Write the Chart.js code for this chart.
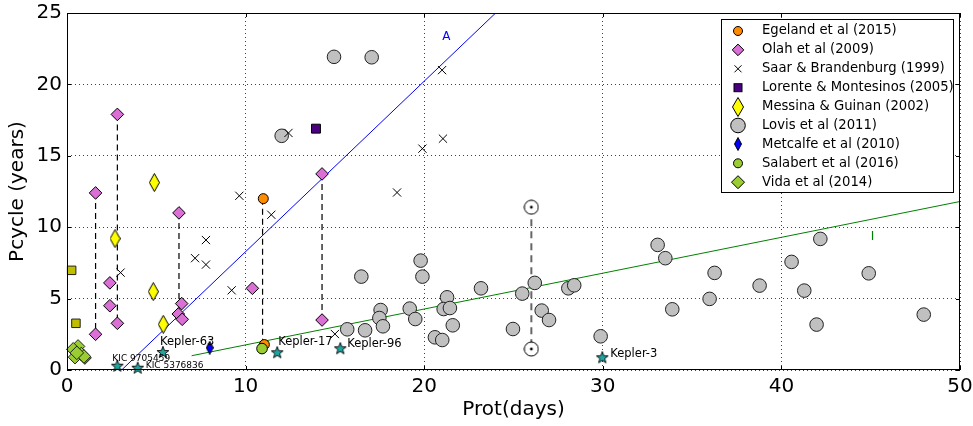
<!DOCTYPE html>
<html>
<head>
<meta charset="utf-8">
<script src="https://cdn.jsdelivr.net/npm/chart.js@4.4.1/dist/chart.umd.min.js"></script>
<style>
html,body{margin:0;padding:0;background:#fff;}
canvas{display:block;}
</style>
</head>
<body>
<canvas id="c" width="973" height="426"></canvas>
<script>
// ---------------- DATA ----------------
const xTicks = [0, 10, 20, 30, 40, 50];
const yTicks = [0, 5, 10, 15, 20, 25];

const egelandX = [10.99, 11.05];
const egelandY = [12.0, 1.78];

const olahX = [1.6, 2.82, 1.6, 2.4, 2.4, 2.82, 6.27, 6.42, 6.23, 6.45, 10.38, 14.28, 14.28];
const olahY = [12.4, 17.9, 2.5, 6.1, 4.5, 3.27, 11.0, 4.65, 3.92, 3.55, 5.72, 13.73, 3.5];

const saarX = [12.4, 9.65, 11.44, 7.78, 7.17, 7.78, 9.22, 3.0, 15.0, 21.0, 21.05, 19.9, 18.48];
const saarY = [16.6, 12.2, 10.87, 9.1, 7.83, 7.38, 5.58, 6.82, 2.52, 21.0, 16.2, 15.5, 12.43];

const lorenteX = [13.94];
const lorenteY = [16.9];

const oliveX = [0.26, 0.5];
const oliveY = [6.98, 3.27];

const messinaX = [4.89, 2.69, 4.83, 5.39];
const messinaY = [13.13, 9.2, 5.49, 3.2];

const lovisX = [14.95, 17.06, 12.02, 16.48, 19.8, 19.9, 15.69, 16.69, 17.56, 17.49, 17.69, 19.19, 19.5, 21.28, 21.09, 21.44, 21.6, 20.6, 21.01, 23.18, 24.97, 25.49, 26.19, 26.58, 26.99, 28.07, 28.4, 29.88, 33.07, 33.5, 33.89, 36.26, 35.98, 38.78, 40.57, 41.28, 42.18, 41.97, 44.89, 47.97];
const lovisY = [21.93, 21.9, 16.4, 6.54, 7.66, 6.54, 2.85, 2.78, 4.2, 3.64, 3.06, 4.3, 3.57, 5.09, 4.27, 4.34, 3.13, 2.29, 2.1, 5.72, 2.87, 5.35, 6.1, 4.16, 3.5, 5.72, 5.93, 2.36, 8.76, 7.83, 4.25, 6.8, 4.98, 5.91, 7.57, 5.56, 9.18, 3.18, 6.77, 3.88];

const metcalfeX = [7.99];
const metcalfeY = [1.56];

const salabertX = [10.92];
const salabertY = [1.5];

const vidaX = [0.62, 0.35, 0.8, 0.45, 0.95, 0.55];
const vidaY = [1.65, 1.45, 1.12, 0.9, 0.95, 1.2];
const vidaDarkX = [1.0];
const vidaDarkY = [0.85];

const sunX = [26, 26];
const sunY = [11.4, 1.47];

const starNames = ['Kepler-63', 'KIC 9705459', 'KIC 5376836', 'Kepler-17', 'Kepler-96', 'Kepler-3'];
const starX = [5.37, 2.82, 3.96, 11.77, 15.3, 29.97];
const starY = [1.26, 0.3, 0.16, 1.24, 1.52, 0.89];

const tieX = [1.6, 2.82, 6.27, 10.95, 14.28];
const tieTop = [12.4, 17.9, 11.0, 12.0, 13.73];
const tieBottom = [2.5, 3.27, 3.92, 1.75, 3.5];

const sunTieX = [26];
const sunTieTop = [11.4];
const sunTieBottom = [1.47];

const lineAX = [3.06, 24.0];
const lineAY = [0, 25];
const lineIX = [6.98, 50];
const lineIY = [1.0, 11.8];

const annoText = ['A', 'I'];
const annoX = [21.24, 45.1];
const annoY = [23.3, 9.3];

const legendLabels = ['Egeland et al (2015)', 'Olah et al (2009)', 'Saar & Brandenburg (1999)', 'Lorente & Montesinos (2005)', 'Messina & Guinan (2002)', 'Lovis et al (2011)', 'Metcalfe et al (2010)', 'Salabert et al (2016)', 'Vida et al (2014)'];

// ---------------- STYLES ----------------
const FONT = "'DejaVu Sans', 'Liberation Sans', sans-serif";
const C = {
  egeland: '#ff8c00', olah: '#da70d6', lorente: '#4b0082', messina: '#ffff00',
  lovis: '#c0c0c0', metcalfe: '#0000ff', salabert: '#9acd32', vida: '#9acd32',
  vidaDark: '#6b8e23', olive: '#bfbf00', star: '#1fa5a0'
};
const starLabelStyle = [
  {dx: -3, dy: -10, size: 11.5},
  {dx: -5, dy: -7, size: 9},
  {dx: 8, dy: -2, size: 9},
  {dx: 1, dy: -10, size: 11.5},
  {dx: 7, dy: -4, size: 11.5},
  {dx: 8, dy: -3, size: 11.5}
];
const annoColors = ['#0000ff', '#008000'];

function makeCanvas(w, h, draw) {
  const c = document.createElement('canvas');
  c.width = w; c.height = h;
  draw(c.getContext('2d'), w, h);
  return c;
}
function diamondCanvas(w, h, fill) {
  return makeCanvas(w, h, (g) => {
    g.beginPath();
    g.moveTo(w / 2, 0.5); g.lineTo(w - 0.5, h / 2); g.lineTo(w / 2, h - 0.5); g.lineTo(0.5, h / 2);
    g.closePath();
    g.fillStyle = fill; g.fill();
    g.lineWidth = 1; g.strokeStyle = '#000'; g.stroke();
  });
}
function starCanvas(size, fill) {
  return makeCanvas(size, size, (g) => {
    const cx = size / 2, cy = size / 2 + 0.5, R = size / 2 - 0.8, r = R * 0.42;
    g.beginPath();
    for (let i = 0; i < 10; i++) {
      const a = -Math.PI / 2 + i * Math.PI / 5;
      const rr = i % 2 === 0 ? R : r;
      const px = cx + rr * Math.cos(a), py = cy + rr * Math.sin(a);
      if (i === 0) g.moveTo(px, py); else g.lineTo(px, py);
    }
    g.closePath();
    g.fillStyle = fill; g.fill();
    g.lineWidth = 0.9; g.strokeStyle = '#000'; g.stroke();
  });
}
function sunCanvas(size) {
  return makeCanvas(size, size, (g) => {
    g.beginPath(); g.arc(size / 2, size / 2, size / 2 - 1, 0, Math.PI * 2);
    g.fillStyle = '#fff'; g.fill(); g.lineWidth = 1; g.strokeStyle = '#000'; g.stroke();
    g.beginPath(); g.arc(size / 2, size / 2, 1.4, 0, Math.PI * 2); g.fillStyle = '#000'; g.fill();
  });
}
const messinaImg = diamondCanvas(11, 19, C.messina);
const metcalfeImg = diamondCanvas(8, 14, C.metcalfe);
const starImg = starCanvas(14, C.star);
const sunImg = sunCanvas(16);
const messinaLegImg = diamondCanvas(12, 20, C.messina);
const metcalfeLegImg = diamondCanvas(8, 14, C.metcalfe);

const pts = (xs, ys) => xs.map((x, i) => ({x: x, y: ys[i]}));

function markerSet(label, xs, ys, o) {
  return Object.assign({
    label: label, data: pts(xs, ys), showLine: false, clip: false,
    borderColor: '#000', borderWidth: 1, pointBorderWidth: 1
  }, o);
}

const datasets = [];
datasets.push({label: 'lineA', data: pts(lineAX, lineAY), showLine: true, pointRadius: 0,
  borderColor: '#0000ff', borderWidth: 1, order: 100});
datasets.push({label: 'lineI', data: pts(lineIX, lineIY), showLine: true, pointRadius: 0,
  borderColor: '#008000', borderWidth: 1, order: 100});
tieX.forEach((x, i) => datasets.push({label: 'tie' + i,
  data: [{x: x, y: tieTop[i]}, {x: x, y: tieBottom[i]}], showLine: true, pointRadius: 0,
  borderColor: '#000', borderWidth: 1.2, borderDash: [6, 4], order: 90}));
sunTieX.forEach((x, i) => datasets.push({label: 'suntie' + i,
  data: [{x: x, y: sunTieTop[i]}, {x: x, y: sunTieBottom[i]}], showLine: true, pointRadius: 0,
  borderColor: '#666', borderWidth: 2, borderDash: [7, 5], order: 90}));
datasets.push(markerSet(legendLabels[5], lovisX, lovisY, {pointStyle: 'circle', pointRadius: 6.8, backgroundColor: C.lovis, borderColor: '#222', order: 50}));
datasets.push(markerSet('olive', oliveX, oliveY, {pointStyle: 'rect', pointRadius: 6, backgroundColor: C.olive, borderColor: '#222', order: 20}));
datasets.push(markerSet('vidaDark', vidaDarkX, vidaDarkY, {pointStyle: 'rectRot', pointRadius: 6.5, backgroundColor: C.vidaDark, borderColor: '#222', order: 21}));
datasets.push(markerSet(legendLabels[8], vidaX, vidaY, {pointStyle: 'rectRot', pointRadius: 6.8, backgroundColor: C.vida, borderColor: '#222', order: 20}));
datasets.push(markerSet(legendLabels[1], olahX, olahY, {pointStyle: 'rectRot', pointRadius: 6.3, backgroundColor: C.olah, order: 15}));
datasets.push(markerSet(legendLabels[2], saarX, saarY, {pointStyle: 'crossRot', pointRadius: 5.8, backgroundColor: '#000', borderColor: '#000', order: 14}));
datasets.push(markerSet(legendLabels[3], lorenteX, lorenteY, {pointStyle: 'rect', pointRadius: 6.3, backgroundColor: C.lorente, order: 13}));
datasets.push(markerSet(legendLabels[4], messinaX, messinaY, {pointStyle: messinaImg, pointRadius: 6, order: 12}));
datasets.push(markerSet(legendLabels[0], egelandX, egelandY, {pointStyle: 'circle', pointRadius: 5, backgroundColor: C.egeland, order: 12}));
datasets.push(markerSet(legendLabels[7], salabertX, salabertY, {pointStyle: 'circle', pointRadius: 5.3, backgroundColor: C.salabert, order: 11}));
datasets.push(markerSet(legendLabels[6], metcalfeX, metcalfeY, {pointStyle: metcalfeImg, pointRadius: 5, order: 10}));
datasets.push(markerSet('Sun', sunX, sunY, {pointStyle: sunImg, pointRadius: 7, order: 5}));
datasets.push(markerSet('Kepler', starX, starY, {pointStyle: starImg, pointRadius: 6, order: 1}));

// ---------------- PLUGINS ----------------
const framePlugin = {
  id: 'frame',
  afterDatasetsDraw(chart) {
    const {ctx, chartArea: a, scales} = chart;
    ctx.save();
    ctx.strokeStyle = '#000'; ctx.lineWidth = 1; ctx.setLineDash([]);
    ctx.strokeRect(Math.round(a.left) + 0.5, Math.round(a.top) + 0.5, Math.round(a.right - a.left) - 1, Math.round(a.bottom - a.top) - 1);
    ctx.beginPath();
    xTicks.forEach(v => {
      const px = Math.round(scales.x.getPixelForValue(v)) + 0.5;
      ctx.moveTo(px, a.bottom); ctx.lineTo(px, a.bottom - 4);
      ctx.moveTo(px, a.top); ctx.lineTo(px, a.top + 4);
    });
    yTicks.forEach(v => {
      const py = Math.round(scales.y.getPixelForValue(v)) + 0.5;
      ctx.moveTo(a.left, py); ctx.lineTo(a.left + 4, py);
      ctx.moveTo(a.right, py); ctx.lineTo(a.right - 4, py);
    });
    ctx.stroke();
    ctx.fillStyle = '#000'; ctx.textBaseline = 'middle'; ctx.textAlign = 'left';
    starNames.forEach((n, i) => {
      const s = starLabelStyle[i];
      ctx.font = s.size + 'px ' + FONT;
      ctx.fillText(n, scales.x.getPixelForValue(starX[i]) + s.dx, scales.y.getPixelForValue(starY[i]) + s.dy);
    });
    ctx.font = '12px ' + FONT; ctx.textAlign = 'center';
    annoText.forEach((t, i) => {
      ctx.fillStyle = annoColors[i];
      ctx.fillText(t, scales.x.getPixelForValue(annoX[i]), scales.y.getPixelForValue(annoY[i]));
    });
    ctx.restore();
  }
};

function legMarker(ctx, kind, x, y) {
  ctx.save();
  ctx.lineWidth = 1; ctx.strokeStyle = '#000';
  const circ = (r, f) => { ctx.beginPath(); ctx.arc(x, y, r, 0, Math.PI * 2); ctx.fillStyle = f; ctx.fill(); ctx.stroke(); };
  const dia = (r, f) => { ctx.beginPath(); ctx.moveTo(x, y - r); ctx.lineTo(x + r, y); ctx.lineTo(x, y + r); ctx.lineTo(x - r, y); ctx.closePath(); ctx.fillStyle = f; ctx.fill(); ctx.stroke(); };
  if (kind === 0) circ(4.5, C.egeland);
  else if (kind === 1) dia(5.8, C.olah);
  else if (kind === 2) { ctx.beginPath(); ctx.moveTo(x - 3.5, y - 3.5); ctx.lineTo(x + 3.5, y + 3.5); ctx.moveTo(x + 3.5, y - 3.5); ctx.lineTo(x - 3.5, y + 3.5); ctx.stroke(); }
  else if (kind === 3) { ctx.fillStyle = C.lorente; ctx.fillRect(x - 4, y - 4, 8, 8); ctx.strokeRect(x - 4, y - 4, 8, 8); }
  else if (kind === 4) ctx.drawImage(messinaLegImg, Math.round(x - 6), Math.round(y - 10));
  else if (kind === 5) circ(7.3, C.lovis);
  else if (kind === 6) ctx.drawImage(metcalfeLegImg, Math.round(x - 4), Math.round(y - 7));
  else if (kind === 7) circ(4.5, C.salabert);
  else if (kind === 8) dia(6.5, C.vida);
  ctx.restore();
}

const legendPlugin = {
  id: 'boxLegend',
  afterDraw(chart) {
    const {ctx, chartArea: a} = chart;
    const w = 232, h = 173;
    const left = Math.round(a.right - 7 - w), top = Math.round(a.top + 6);
    ctx.save();
    ctx.fillStyle = '#fff'; ctx.fillRect(left, top, w, h);
    ctx.strokeStyle = '#000'; ctx.lineWidth = 1; ctx.strokeRect(left + 0.5, top + 0.5, w, h);
    ctx.font = '13.2px ' + FONT; ctx.textBaseline = 'middle'; ctx.textAlign = 'left';
    legendLabels.forEach((t, i) => {
      const y = top + 12 + i * 18.9;
      legMarker(ctx, i, left + 17, y);
      ctx.fillStyle = '#000';
      ctx.fillText(t, left + 41, y);
    });
    ctx.restore();
  }
};

// ---------------- CHART ----------------
new Chart(document.getElementById('c').getContext('2d'), {
  type: 'scatter',
  data: {datasets: datasets},
  options: {
    responsive: false, animation: false, events: [],
    layout: {padding: {left: 0, right: 13, top: 13, bottom: 0}},
    plugins: {legend: {display: false}, tooltip: {enabled: false}},
    scales: {
      x: {
        type: 'linear', min: 0, max: 50,
        afterFit(s) { s.height = 56; s.paddingLeft = 0; s.paddingRight = 0; },
        afterBuildTicks(s) { s.ticks = xTicks.map(v => ({value: v})); },
        ticks: {font: {family: FONT, size: 20}, color: '#000', padding: 5, maxRotation: 0, autoSkip: false},
        grid: {color: 'rgba(0,0,0,0.75)', lineWidth: 1, drawTicks: false},
        border: {display: false, dash: [1, 3]},
        title: {display: true, text: 'Prot(days)', color: '#000', font: {family: FONT, size: 20}, padding: {top: 0, bottom: 4}}
      },
      y: {
        type: 'linear', min: 0, max: 25,
        afterFit(s) { s.width = 67; s.paddingTop = 0; s.paddingBottom = 0; },
        afterBuildTicks(s) { s.ticks = yTicks.map(v => ({value: v})); },
        ticks: {font: {family: FONT, size: 20}, color: '#000', padding: 5, autoSkip: false},
        grid: {color: 'rgba(0,0,0,0.75)', lineWidth: 1, drawTicks: false},
        border: {display: false, dash: [1, 3]},
        title: {display: true, text: 'Pcycle (years)', color: '#000', font: {family: FONT, size: 20}, padding: {top: 6, bottom: 0}}
      }
    }
  },
  plugins: [framePlugin, legendPlugin]
});
</script>
</body>
</html>
